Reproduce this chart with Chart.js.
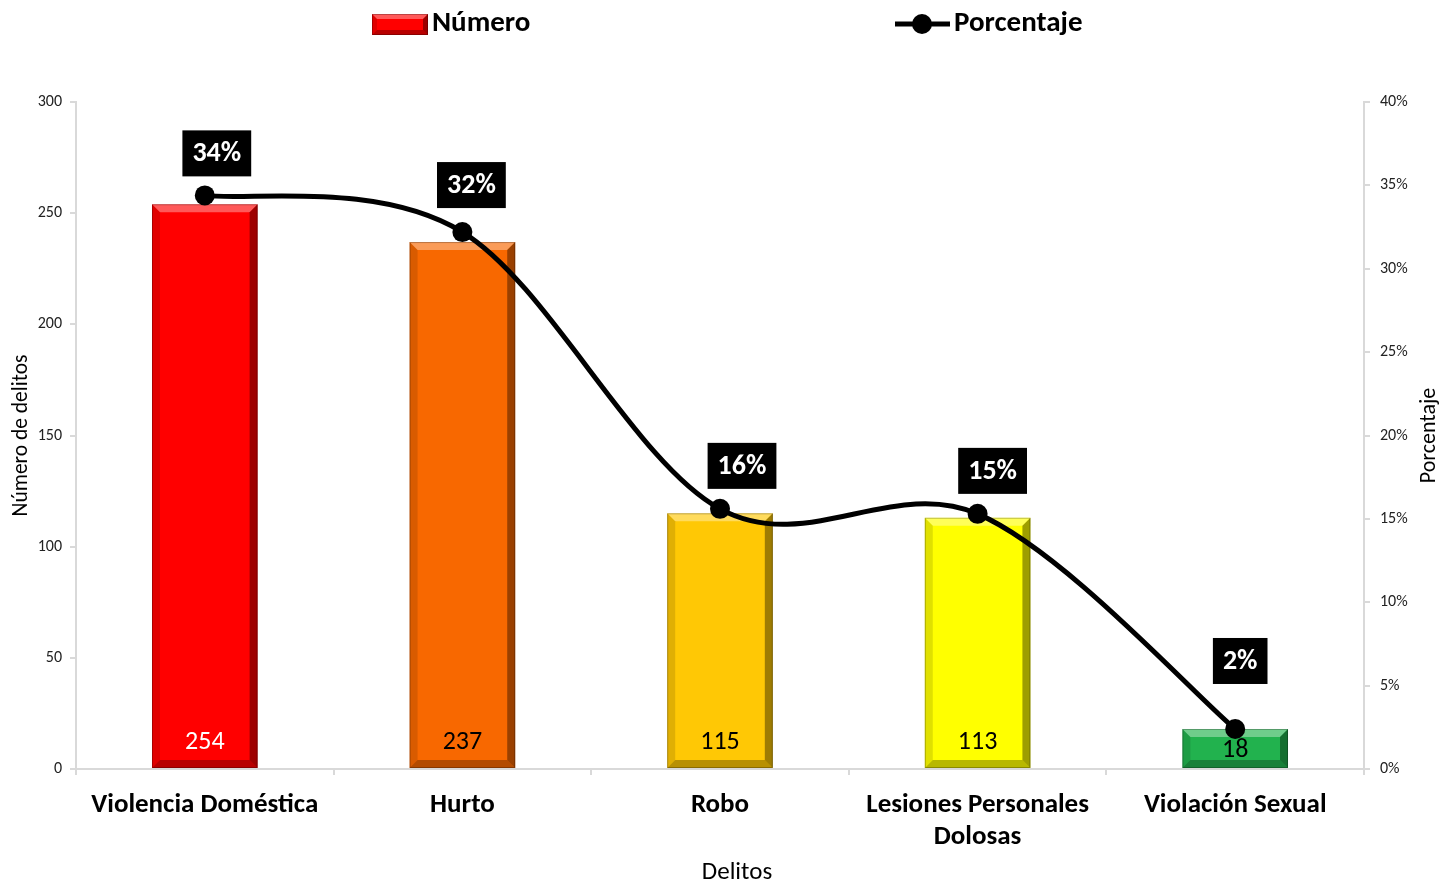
<!DOCTYPE html>
<html>
<head>
<meta charset="utf-8">
<script src="https://cdn.jsdelivr.net/npm/chart.js@4.4.0/dist/chart.umd.min.js"></script>
<style>
  html, body { margin: 0; padding: 0; background: #fff; }
</style>
</head>
<body>
<canvas id="myChart" width="1440" height="885"></canvas>
<script>
// datos del gráfico
const delitos = ['Violencia Doméstica', 'Hurto', 'Robo', ['Lesiones Personales', 'Dolosas'], 'Violación Sexual'];
const numeroDelitos = [254, 237, 115, 113, 18];
const porcentaje = [34.4, 32.2, 15.6, 15.3, 2.4];
const etiquetasPorcentaje = ['34%', '32%', '16%', '15%', '2%'];
const ticksIzq = [0, 50, 100, 150, 200, 250, 300];
const ticksDer = [0, 5, 10, 15, 20, 25, 30, 35, 40];

// estilos
const coloresBarras = ['#FF0000', '#F86800', '#FFC805', '#FFFF00', '#22B24E'];
const coloresTexto = ['#FFFFFF', '#000000', '#000000', '#000000', '#000000'];
const desplazEtiquetas = [[12, -42], [9, -47], [22, -43], [15, -43], [5, -68]];
const fuente = 'Carlito, Calibri, Lato, sans-serif';

function bisel(ctx, l, t, r, b, s) {
    ctx.save();
    ctx.fillStyle = 'rgba(255,255,255,0.35)';
    ctx.beginPath(); ctx.moveTo(l, t); ctx.lineTo(r, t); ctx.lineTo(r - s, t + s); ctx.lineTo(l + s, t + s); ctx.closePath(); ctx.fill();
    ctx.fillStyle = 'rgba(0,0,0,0.38)';
    ctx.beginPath(); ctx.moveTo(r, t); ctx.lineTo(r, b); ctx.lineTo(r - s, b - s); ctx.lineTo(r - s, t + s); ctx.closePath(); ctx.fill();
    ctx.fillStyle = 'rgba(0,0,0,0.28)';
    ctx.beginPath(); ctx.moveTo(l, b); ctx.lineTo(r, b); ctx.lineTo(r - s, b - s); ctx.lineTo(l + s, b - s); ctx.closePath(); ctx.fill();
    ctx.fillStyle = 'rgba(0,0,0,0.12)';
    ctx.beginPath(); ctx.moveTo(l, t); ctx.lineTo(l, b); ctx.lineTo(l + s, b - s); ctx.lineTo(l + s, t + s); ctx.closePath(); ctx.fill();
    ctx.strokeStyle = 'rgba(0,0,0,0.25)';
    ctx.lineWidth = 1;
    ctx.strokeRect(l + 0.5, t + 0.5, r - l - 1, b - t - 1);
    ctx.restore();
}

// curva suavizada tipo Excel (Catmull-Rom)
const suavizado = {
    id: 'suavizado',
    beforeDatasetDraw(chart, args) {
        if (args.index !== 1) return;
        const pts = args.meta.data;
        for (let i = 0; i < pts.length; i++) {
            const p = pts[i];
            const prev = pts[Math.max(i - 1, 0)];
            const next = pts[Math.min(i + 1, pts.length - 1)];
            const dx = (next.x - prev.x) / 6, dy = (next.y - prev.y) / 6;
            p.cp1x = p.x - dx; p.cp1y = p.y - dy;
            p.cp2x = p.x + dx; p.cp2y = p.y + dy;
        }
        args.meta.dataset._pointsUpdated = true;
    }
};

const biselBarras = {
    id: 'biselBarras',
    afterDatasetDraw(chart, args) {
        if (args.index !== 0) return;
        const ctx = chart.ctx;
        args.meta.data.forEach((bar, i) => {
            const l = bar.x - bar.width / 2, r = bar.x + bar.width / 2;
            bisel(ctx, l, bar.y, r, bar.base, 8);
            // valor dentro de la barra
            ctx.save();
            ctx.font = '26px ' + fuente;
            ctx.fillStyle = coloresTexto[i];
            ctx.textAlign = 'center';
            ctx.textBaseline = 'middle';
            const y = Math.max(bar.base - 26, (bar.y + bar.base) / 2 + 2);
            ctx.fillText(numeroDelitos[i], bar.x, y);
            ctx.restore();
        });
    }
};

const extras = {
    id: 'extras',
    afterDraw(chart) {
        const ctx = chart.ctx;
        // etiquetas de porcentaje
        const meta = chart.getDatasetMeta(1);
        ctx.save();
        ctx.font = 'bold 28px ' + fuente;
        ctx.textAlign = 'center';
        ctx.textBaseline = 'middle';
        meta.data.forEach((pt, i) => {
            const cx = pt.x + desplazEtiquetas[i][0];
            const cy = pt.y + desplazEtiquetas[i][1];
            const w = ctx.measureText(etiquetasPorcentaje[i]).width + 20;
            ctx.fillStyle = '#000';
            ctx.fillRect(cx - w / 2, cy - 23, w, 46);
            ctx.fillStyle = '#fff';
            ctx.fillText(etiquetasPorcentaje[i], cx, cy + 1);
        });
        ctx.restore();

        // leyenda
        ctx.save();
        ctx.fillStyle = coloresBarras[0];
        ctx.fillRect(372, 14, 56, 21);
        bisel(ctx, 372, 14, 428, 35, 5);
        ctx.font = 'bold 29px ' + fuente;
        ctx.fillStyle = '#000';
        ctx.textBaseline = 'middle';
        ctx.textAlign = 'left';
        ctx.fillText('Número', 432, 24);
        ctx.strokeStyle = '#000';
        ctx.lineWidth = 5;
        ctx.beginPath(); ctx.moveTo(895, 24); ctx.lineTo(950, 24); ctx.stroke();
        ctx.beginPath(); ctx.arc(922, 24, 10, 0, Math.PI * 2); ctx.fill();
        ctx.fillText('Porcentaje', 954, 24);
        ctx.restore();

        // título eje derecho (de abajo hacia arriba)
        ctx.save();
        ctx.translate(1429, (chart.chartArea.top + chart.chartArea.bottom) / 2);
        ctx.rotate(-Math.PI / 2);
        ctx.font = '22px ' + fuente;
        ctx.fillStyle = '#000';
        ctx.textAlign = 'center';
        ctx.textBaseline = 'middle';
        ctx.fillText('Porcentaje', 0, 0);
        ctx.restore();

        // título eje x
        ctx.save();
        ctx.font = '25px ' + fuente;
        ctx.fillStyle = '#000';
        ctx.textAlign = 'center';
        ctx.textBaseline = 'middle';
        ctx.fillText('Delitos', 737, 873);
        ctx.restore();
    }
};

const ctx = document.getElementById('myChart');
new Chart(ctx, {
    data: {
        labels: delitos,
        datasets: [{
            type: 'bar',
            label: 'Número',
            data: numeroDelitos,
            backgroundColor: coloresBarras,
            yAxisID: 'y',
            order: 1,
            categoryPercentage: 1,
            barPercentage: 0.41
        }, {
            type: 'line',
            label: 'Porcentaje',
            data: porcentaje,
            yAxisID: 'y1',
            order: 0,
            borderColor: '#000',
            borderWidth: 5,
            tension: 0.4,
            pointRadius: 10,
            pointBackgroundColor: '#000',
            pointBorderColor: '#000',
            pointBorderWidth: 0
        }]
    },
    options: {
        responsive: false,
        animation: false,
        layout: { padding: { top: 102, left: 0, right: 0, bottom: 0 } },
        plugins: {
            legend: { display: false },
            tooltip: { enabled: false }
        },
        scales: {
            x: {
                offset: true,
                grid: { drawOnChartArea: false, color: '#d9d9d9', lineWidth: 2, tickLength: 6, offset: true },
                border: { color: '#d9d9d9', width: 2 },
                ticks: { color: '#000', padding: 14, font: { family: fuente, size: 27, weight: 'bold' } },
                afterFit(s) { s.height = 116; }
            },
            y: {
                position: 'left',
                min: 0,
                max: 300,
                afterBuildTicks(s) { s.ticks = ticksIzq.map(v => ({ value: v })); },
                grid: { drawOnChartArea: false, color: '#d9d9d9', lineWidth: 2, tickLength: 6 },
                border: { color: '#d9d9d9', width: 2 },
                ticks: { color: '#222', padding: 8, font: { family: fuente, size: 16 } },
                title: { display: true, text: 'Número de delitos', color: '#000', padding: { top: 9, bottom: 0 }, font: { family: fuente, size: 21.5 } },
                afterFit(s) { s.width = 76; }
            },
            y1: {
                position: 'right',
                min: 0,
                max: 40,
                afterBuildTicks(s) { s.ticks = ticksDer.map(v => ({ value: v })); },
                grid: { drawOnChartArea: false, color: '#d9d9d9', lineWidth: 2, tickLength: 6 },
                border: { color: '#d9d9d9', width: 2 },
                ticks: { color: '#222', padding: 10, font: { family: fuente, size: 16 }, callback: v => v + '%' },
                afterFit(s) { s.width = 76; }
            }
        }
    },
    plugins: [suavizado, biselBarras, extras]
});
</script>
</body>
</html>
